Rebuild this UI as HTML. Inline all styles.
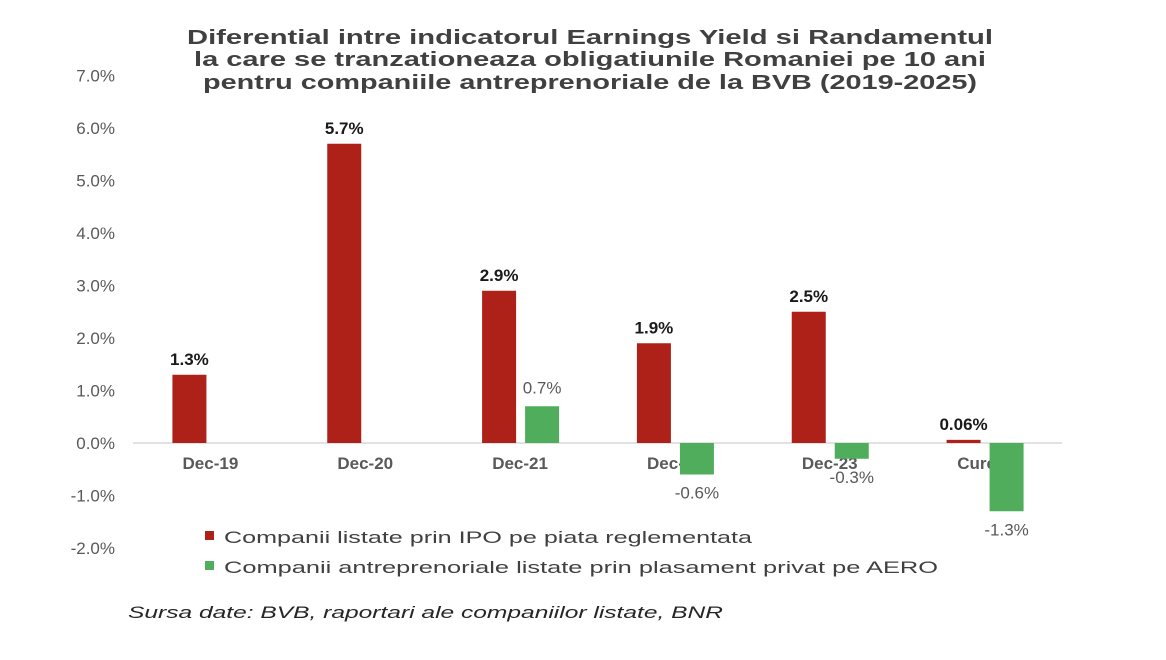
<!DOCTYPE html>
<html><head><meta charset="utf-8"><style>
html,body{margin:0;padding:0;background:#fff;}
svg{display:block;font-family:"Liberation Sans",Arial,sans-serif;}
</style></head><body>
<svg id="chart" width="1166" height="660" viewBox="0 0 1166 660">
<g fill="#404040" font-weight="bold" font-size="20" text-anchor="middle">
<text x="590" y="44" textLength="806" lengthAdjust="spacingAndGlyphs">Diferential intre indicatorul Earnings Yield si Randamentul</text>
<text x="590" y="66" textLength="792" lengthAdjust="spacingAndGlyphs">la care se tranzationeaza obligatiunile Romaniei pe 10 ani</text>
<text x="590" y="89" textLength="774" lengthAdjust="spacingAndGlyphs">pentru companiile antreprenoriale de la BVB (2019-2025)</text>
</g>
<g id="yaxis"></g>
<line x1="133" x2="1062" y1="443" y2="443" stroke="#d9d9d9" stroke-width="1.5"/>
<g id="bars"></g>
<g font-size="17" fill="#404040">
<g><rect x="205" y="531" width="9" height="9" fill="#ae2118"/><text x="224" y="543" textLength="528" lengthAdjust="spacingAndGlyphs">Companii listate prin IPO pe piata reglementata</text></g>
<g><rect x="205" y="561" width="9" height="9" fill="#4fad5b"/><text x="224" y="573" textLength="714" lengthAdjust="spacingAndGlyphs">Companii antreprenoriale listate prin plasament privat pe AERO</text></g>
</g>
<text x="128" y="618" font-size="17" font-style="italic" fill="#262626" textLength="595" lengthAdjust="spacingAndGlyphs">Sursa date: BVB, raportari ale companiilor listate, BNR</text>
</svg>
<script>
const categories = ["Dec-19","Dec-20","Dec-21","Dec-22","Dec-23","Curent"];
const ipoValues = [1.3, 5.7, 2.9, 1.9, 2.5, 0.06];
const aeroValues = [null, null, 0.7, -0.6, -0.3, -1.3];
const ipoLabels = ["1.3%","5.7%","2.9%","1.9%","2.5%","0.06%"];
const aeroLabels = ["","","0.7%","-0.6%","-0.3%","-1.3%"];
const yTicks = [7,6,5,4,3,2,1,0,-1,-2];

const NS="http://www.w3.org/2000/svg";
const plotL=133, plotR=1062, zeroY=443, pxPer=52.5;
const y=v=>zeroY - v*pxPer;
const band=(plotR-plotL)/categories.length;
const xc=i=>plotL+band*(i+0.5);
function mk(tag,attrs,parent,txt){const e=document.createElementNS(NS,tag);for(const k in attrs)e.setAttribute(k,attrs[k]);if(txt!==undefined)e.textContent=txt;parent.appendChild(e);return e;}
const ya=document.getElementById('yaxis');
yTicks.forEach(t=>{
  const e=mk('text',{x:115,y:y(t)+6,'text-anchor':'end','font-size':17,fill:'#595959'},ya,t.toFixed(1)+'%');
  
  
});
const g=document.getElementById('bars');
categories.forEach((c,i)=>{
  const cx=xc(i);
  const lab=mk('text',{x:cx,y:469,'text-anchor':'middle','font-size':17,'font-weight':'bold',fill:'#595959'},g,c);
  
  
  const v=ipoValues[i];
  const r=mk('rect',{x:cx-38,y:Math.min(y(v),zeroY),width:34,height:Math.max(Math.abs(y(v)-zeroY),2),fill:'#ae2118'},g);
  
  
  const rl=mk('text',{x:cx-21,y:y(v)-10,'text-anchor':'middle','font-size':17,'font-weight':'bold',fill:'#1a1a1a'},g,ipoLabels[i]);
  
  
  const a=aeroValues[i];
  if(a!==null){
    const b=mk('rect',{x:cx+5,y:Math.min(y(a),zeroY),width:34,height:Math.abs(y(a)-zeroY),fill:'#4fad5b'},g);
    
    
    const ly=a>=0? y(a)-13 : y(a)+24;
    const al=mk('text',{x:cx+22,y:ly,'text-anchor':'middle','font-size':17,fill:'#595959'},g,aeroLabels[i]);
    
    
  }
});
</script>
</body></html>
